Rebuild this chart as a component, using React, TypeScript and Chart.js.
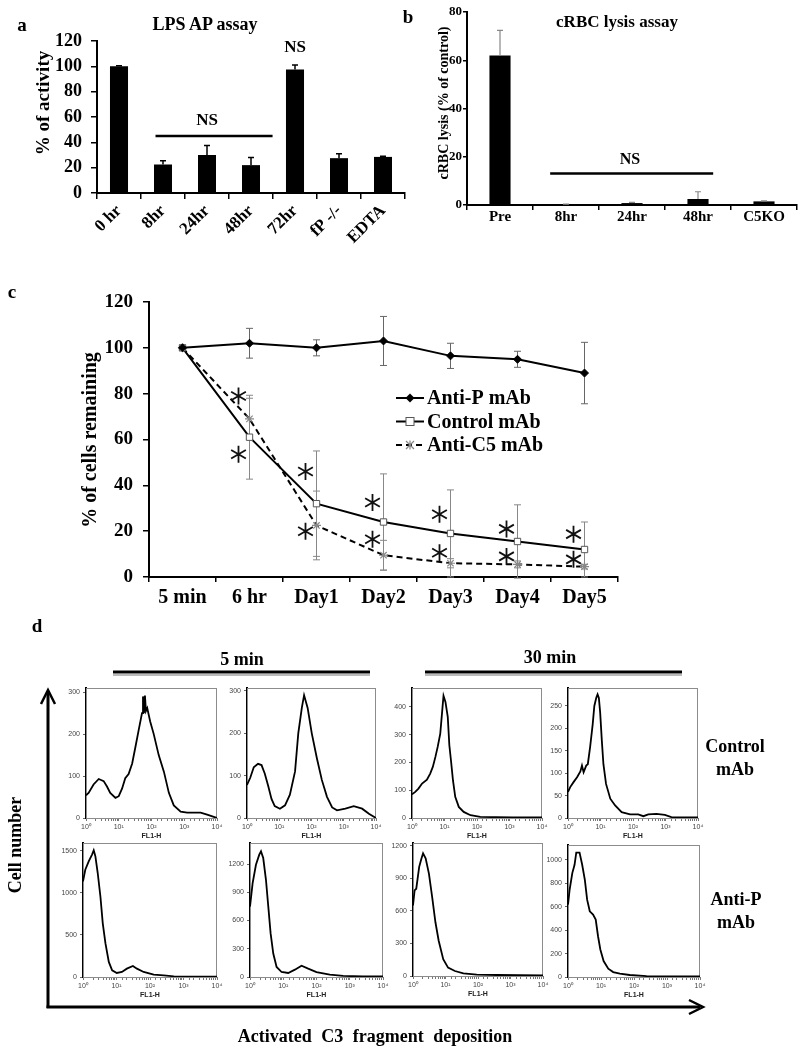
import React, { useEffect, useRef } from 'react';
import { Chart, registerables } from 'chart.js';

Chart.register(...registerables);

const SERIF = '"Liberation Serif", "Times New Roman", Times, serif';
const SANS = '"Liberation Sans", Arial, Helvetica, sans-serif';

/* ================= Panel a : LPS AP assay ================= */
const aCategories = ['0 hr', '8hr', '24hr', '48hr', '72hr', 'fP -/-', 'EDTA'];
const aValues = [100, 22.5, 30, 22, 97.5, 27.5, 28.5];
const aErrors = [0.5, 3, 7.5, 6, 3.5, 3.5, 0.5];
const aYTicks = [0, 20, 40, 60, 80, 100, 120];
const aNS = [
  { from: 0.83, to: 3.49, value: 45, textAt: 2, textValue: 57.5 },
  { textAt: 4, textValue: 114.5 },
];

/* ================= Panel b : cRBC lysis assay ================= */
const bCategories = ['Pre', '8hr', '24hr', '48hr', 'C5KO'];
const bValues = [62, 0.3, 0.8, 2.5, 1.5];
const bErrors = [10.4, 0.1, 0.3, 3, 0.2];
const bYTicks = [0, 20, 40, 60, 80];
const bNS = [{ from: 0.76, to: 3.23, value: 13.1, textAt: 1.97, textValue: 18.7 }];

/* ================= Panel c : % of cells remaining ================= */
const cCategories = ['5 min', '6 hr', 'Day1', 'Day2', 'Day3', 'Day4', 'Day5'];
const cYTicks = [0, 20, 40, 60, 80, 100, 120];
const antiP = [100, 102, 100, 103, 96.5, 95, 89];
const antiPErr = [0, 6.5, 3.5, 10.7, 5.5, 3.5, 13.4];
const controlMAb = [100, 61, 32, 24, 19, 15.5, 12];
const controlErr = [0, 18.3, 23, 21, 19, 16, 12];
const antiC5 = [100, 69, 22.5, 9.5, 6, 5.5, 4.5];
const antiC5Err = [0, 9, 15, 6.5, 2, 1.5, 1];
const starCategory = [1, 1, 2, 2, 3, 3, 4, 4, 5, 5, 6, 6];
const starValue = [79, 53.6, 46, 20, 32.5, 16.5, 27.4, 10.6, 21, 9, 18.7, 7.7];

/* ================= Panel d : flow histograms (FL1-H) ================= */
const flTickValues = [1, 10, 100, 1000, 10000];
const flTickLabels = ['10\u2070', '10\u00b9', '10\u00b2', '10\u00b3', '10\u2074'];

const h1X = [1, 1.2, 1.7, 2.45, 3.47, 4.37, 5.5, 7.94, 10, 12.6, 15.8, 20, 25.7, 32.4, 40.7, 51.3, 55, 58.9, 63.1, 67.6, 74.1, 91.2, 117, 166, 240, 339, 479, 776, 1230, 3162, 5012, 10000];
const h1Y = [54, 60, 80, 93, 88, 75, 60, 48, 52, 70, 95, 105, 130, 170, 210, 250, 290, 250, 292, 255, 262, 230, 200, 150, 110, 60, 30, 15, 13, 13, 8, 0];
const h1Ticks = [0, 100, 200, 300];

const h2X = [1, 1.26, 1.62, 2.19, 2.82, 3.55, 4.57, 5.75, 7.24, 10.5, 15.1, 21.4, 30.9, 38.9, 50.1, 58.9, 75.9, 102, 148, 209, 302, 437, 617, 1122, 2042, 3715, 6026, 10000];
const h2Y = [78, 95, 120, 128, 125, 105, 75, 45, 28, 22, 30, 55, 110, 200, 260, 290, 260, 200, 140, 90, 50, 25, 18, 22, 28, 22, 10, 0];
const h2Ticks = [0, 100, 200, 300];

const h3X = [1, 1.26, 1.58, 2.04, 2.88, 3.63, 4.37, 5.25, 6.17, 7.41, 8.71, 9.33, 10.7, 12.6, 14.1, 15.8, 18.2, 21.4, 27.5, 38.9, 63.1, 126, 380, 1259, 10000];
const h3Y = [85, 94, 106, 124, 138, 160, 184, 220, 256, 304, 400, 440, 418, 364, 262, 208, 136, 76, 40, 22, 10, 4, 3, 2, 2];
const h3Ticks = [0, 100, 200, 300, 400];

const h4X = [1, 1.17, 1.48, 1.9, 2.4, 2.69, 3.02, 3.63, 4.07, 4.79, 5.75, 6.46, 7.41, 8.13, 8.91, 9.77, 11, 12.3, 14.8, 20, 28.2, 44.7, 81.3, 145, 209, 295, 525, 955, 1514, 2754, 10000];
const h4Y = [58, 69, 80, 91, 104, 117, 102, 117, 120, 158, 209, 250, 268, 276, 268, 235, 172, 120, 76, 43, 28, 13, 8, 8, 4, 8, 9, 7, 2, 1.5, 1.5];
const h4Ticks = [0, 50, 100, 150, 200, 250];

const h5X = [1, 1.17, 1.48, 1.86, 2.09, 2.34, 2.75, 3.31, 3.89, 4.68, 5.89, 7.41, 10.2, 14.5, 20.4, 30.9, 40.7, 64.6, 129, 257, 513, 1259, 10000];
const h5Y = [1134, 1273, 1373, 1453, 1504, 1433, 1234, 955, 637, 398, 179, 80, 48, 60, 99, 131, 99, 60, 28, 20, 8, 4, 4];
const h5Ticks = [0, 500, 1000, 1500];

const h6X = [1, 1.2, 1.51, 1.9, 2.14, 2.5, 3.02, 3.55, 4.17, 5.01, 6.31, 8.91, 14.1, 22.4, 35.5, 56.2, 100, 251, 631, 2512, 10000];
const h6Y = [748, 997, 1193, 1300, 1335, 1264, 1033, 748, 463, 249, 107, 53, 43, 78, 120, 89, 53, 25, 11, 7, 7];
const h6Ticks = [0, 300, 600, 900, 1200];

const h7X = [1, 1.12, 1.26, 1.55, 1.82, 2.04, 2.45, 3.09, 3.89, 4.9, 6.17, 8.51, 12, 19.5, 35.5, 91.2, 380, 10000];
const h7Y = [650, 789, 804, 1005, 1083, 1129, 1083, 943, 727, 495, 325, 155, 77, 46, 25, 12, 9, 6];
const h7Ticks = [0, 300, 600, 900, 1200];

const h8X = [1, 1.12, 1.35, 1.58, 1.78, 2.24, 2.69, 3.24, 3.8, 4.57, 5.75, 6.92, 8.13, 9.55, 12, 16.6, 23.4, 37.2, 74.1, 240, 10000];
const h8Y = [618, 745, 887, 958, 1062, 1062, 958, 830, 660, 561, 533, 490, 348, 235, 136, 71, 42, 28, 17, 8, 5];
const h8Ticks = [0, 200, 400, 600, 800, 1000];

const histMax = [310, 307, 468, 290, 1590, 1424, 1225, 1127];

/* layout of the histogram frames (page pixels) */
const histBoxes = [
  { l: 86, r: 217, t: 688, b: 818 },
  { l: 247, r: 376, t: 688, b: 818 },
  { l: 412, r: 542, t: 688, b: 818 },
  { l: 568, r: 698, t: 688, b: 818 },
  { l: 83, r: 217, t: 843, b: 977 },
  { l: 250, r: 383, t: 843, b: 977 },
  { l: 413, r: 543, t: 843, b: 976 },
  { l: 568, r: 700, t: 845, b: 977 },
];
const histSeries = [
  [h1X, h1Y, h1Ticks],
  [h2X, h2Y, h2Ticks],
  [h3X, h3Y, h3Ticks],
  [h4X, h4Y, h4Ticks],
  [h5X, h5Y, h5Ticks],
  [h6X, h6Y, h6Ticks],
  [h7X, h7Y, h7Ticks],
  [h8X, h8Y, h8Ticks],
];

/* ================= helpers ================= */
function fixWidth(w: number) {
  return (s: any) => {
    s.width = w;
    s.paddingTop = 0; s.paddingBottom = 0; s.paddingLeft = 0; s.paddingRight = 0;
  };
}
function fixHeight(h: number) {
  return (s: any) => {
    s.height = h;
    s.paddingTop = 0; s.paddingBottom = 0; s.paddingLeft = 0; s.paddingRight = 0;
  };
}
function ticksFrom(values: number[]) {
  return (s: any) => {
    s.ticks = values.map((v) => ({ value: v }));
  };
}

function errorBars(sets: any[], before: boolean) {
  const draw = (chart: any) => {
    const ctx = chart.ctx;
    const y = chart.scales.y;
    sets.forEach((set) => {
      const meta = chart.getDatasetMeta(set.index);
      const values = chart.data.datasets[set.index].data;
      ctx.save();
      ctx.strokeStyle = set.color;
      ctx.lineWidth = set.width;
      meta.data.forEach((el: any, i: number) => {
        const e = set.errors[i];
        if (!e) return;
        const v = values[i];
        const x = el.x;
        const yTop = y.getPixelForValue(v + e);
        const yBot = y.getPixelForValue(set.both ? v - e : v);
        ctx.beginPath();
        ctx.moveTo(x, yBot);
        ctx.lineTo(x, yTop);
        ctx.moveTo(x - set.cap, yTop);
        ctx.lineTo(x + set.cap, yTop);
        if (set.both) {
          ctx.moveTo(x - set.cap, yBot);
          ctx.lineTo(x + set.cap, yBot);
        }
        ctx.stroke();
      });
      ctx.restore();
    });
  };
  return before
    ? { id: 'errorBarsBefore', beforeDatasetsDraw: draw }
    : { id: 'errorBarsAfter', afterDatasetsDraw: draw };
}

function nsMarks(items: any[], size: number) {
  return {
    id: 'nsMarks',
    afterDatasetsDraw(chart: any) {
      const { ctx } = chart;
      const x = chart.scales.x;
      const y = chart.scales.y;
      ctx.save();
      ctx.strokeStyle = '#000';
      ctx.fillStyle = '#000';
      ctx.lineWidth = 2.5;
      ctx.font = `bold ${size}px ${SERIF}`;
      ctx.textAlign = 'center';
      ctx.textBaseline = 'middle';
      items.forEach((it) => {
        if (it.from !== undefined) {
          const yy = y.getPixelForValue(it.value);
          ctx.beginPath();
          ctx.moveTo(x.getPixelForValue(it.from), yy);
          ctx.lineTo(x.getPixelForValue(it.to), yy);
          ctx.stroke();
        }
        ctx.fillText('NS', x.getPixelForValue(it.textAt), y.getPixelForValue(it.textValue));
      });
      ctx.restore();
    },
  };
}

function drawAsterisk(ctx: CanvasRenderingContext2D, x: number, y: number, r: number) {
  ctx.beginPath();
  for (let k = 0; k < 3; k++) {
    const ang = Math.PI / 2 + (k * Math.PI) / 3;
    ctx.moveTo(x + r * Math.cos(ang), y + r * Math.sin(ang));
    ctx.lineTo(x - r * Math.cos(ang), y - r * Math.sin(ang));
  }
  ctx.stroke();
}

const asteriskPlugin = {
  id: 'asterisks',
  afterDatasetsDraw(chart: any) {
    const { ctx } = chart;
    const x = chart.scales.x;
    const y = chart.scales.y;
    ctx.save();
    ctx.strokeStyle = '#111';
    ctx.lineWidth = 1.8;
    starCategory.forEach((c, i) => {
      drawAsterisk(ctx, x.getPixelForValue(c) - 11, y.getPixelForValue(starValue[i]), 8.5);
    });
    ctx.restore();
  },
};

function drawMarker(ctx: CanvasRenderingContext2D, kind: string, x: number, y: number) {
  ctx.save();
  if (kind === 'diamond') {
    ctx.fillStyle = '#000';
    ctx.beginPath();
    ctx.moveTo(x, y - 4.5);
    ctx.lineTo(x + 4.5, y);
    ctx.lineTo(x, y + 4.5);
    ctx.lineTo(x - 4.5, y);
    ctx.closePath();
    ctx.fill();
  } else if (kind === 'square') {
    ctx.fillStyle = '#fff';
    ctx.strokeStyle = '#555';
    ctx.lineWidth = 1;
    ctx.fillRect(x - 4, y - 4, 8, 8);
    ctx.strokeRect(x - 4, y - 4, 8, 8);
  } else {
    ctx.strokeStyle = '#888';
    ctx.lineWidth = 1.2;
    ctx.beginPath();
    ctx.moveTo(x - 4, y - 4); ctx.lineTo(x + 4, y + 4);
    ctx.moveTo(x + 4, y - 4); ctx.lineTo(x - 4, y + 4);
    ctx.moveTo(x, y - 4.5); ctx.lineTo(x, y + 4.5);
    ctx.stroke();
  }
  ctx.restore();
}

const legendMarkers = ['diamond', 'square', 'star'];
const legendPlugin = {
  id: 'legendC',
  afterDraw(chart: any) {
    const { ctx, chartArea } = chart;
    const x0 = 396;
    const x1 = 424;
    const tx = 427;
    ctx.save();
    chart.data.datasets.forEach((ds: any, i: number) => {
      const yy = chartArea.top + 96 + i * 23.5;
      ctx.strokeStyle = '#000';
      ctx.lineWidth = 2;
      ctx.setLineDash(ds.borderDash || []);
      ctx.beginPath();
      ctx.moveTo(x0, yy);
      ctx.lineTo(x1, yy);
      ctx.stroke();
      ctx.setLineDash([]);
      drawMarker(ctx, legendMarkers[i], (x0 + x1) / 2, yy);
      ctx.fillStyle = '#000';
      ctx.font = `bold 20px ${SERIF}`;
      ctx.textAlign = 'left';
      ctx.textBaseline = 'middle';
      ctx.fillText(ds.label, tx, yy + 1);
    });
    ctx.restore();
  },
};

const frameBox = {
  id: 'frameBox',
  beforeDatasetsDraw(chart: any) {
    const { ctx, chartArea } = chart;
    ctx.save();
    ctx.strokeStyle = '#8c8c8c';
    ctx.lineWidth = 1;
    ctx.strokeRect(chartArea.left + 0.5, chartArea.top + 0.5, chartArea.right - chartArea.left - 1, chartArea.bottom - chartArea.top);
    ctx.restore();
  },
};

const boldSerif = (size: number) => ({ family: SERIF, size, weight: 'bold' as const });

/* ================= chart factories ================= */
const makeA = () => ({
  type: 'bar',
  data: {
    labels: aCategories,
    datasets: [{ data: aValues, backgroundColor: '#000', barPercentage: 0.41, categoryPercentage: 1 }],
  },
  options: {
    responsive: false,
    animation: false,
    devicePixelRatio: 1,
    layout: { padding: { top: 41, right: 15, left: 0, bottom: 0 } },
    plugins: { legend: { display: false }, tooltip: { enabled: false } },
    scales: {
      x: {
        afterFit: fixHeight(57),
        grid: { offset: true, drawOnChartArea: false, tickLength: 6, color: '#000', lineWidth: 1.5 },
        border: { color: '#000', width: 2 },
        ticks: { autoSkip: false, minRotation: 45, maxRotation: 45, padding: 2, color: '#000', font: boldSerif(17) },
      },
      y: {
        min: 0,
        max: 120,
        afterFit: fixWidth(97),
        afterBuildTicks: ticksFrom(aYTicks),
        grid: { drawOnChartArea: false, tickLength: 6, color: '#000', lineWidth: 1.5 },
        border: { color: '#000', width: 2 },
        ticks: { padding: 9, color: '#000', font: boldSerif(18) },
      },
    },
  },
  plugins: [
    errorBars([{ index: 0, errors: aErrors, color: '#000', cap: 3, both: false, width: 1.5 }], false),
    nsMarks(aNS, 17),
  ],
});

const makeB = () => ({
  type: 'bar',
  data: {
    labels: bCategories,
    datasets: [{ data: bValues, backgroundColor: '#000', barPercentage: 0.32, categoryPercentage: 1 }],
  },
  options: {
    responsive: false,
    animation: false,
    devicePixelRatio: 1,
    layout: { padding: { top: 12, right: 1, left: 0, bottom: 0 } },
    plugins: { legend: { display: false }, tooltip: { enabled: false } },
    scales: {
      x: {
        afterFit: fixHeight(35),
        grid: { offset: true, drawOnChartArea: false, tickLength: 5, color: '#000', lineWidth: 1.5 },
        border: { color: '#000', width: 2 },
        ticks: { autoSkip: false, maxRotation: 0, padding: -2, color: '#000', font: boldSerif(15) },
      },
      y: {
        min: 0,
        max: 80,
        afterFit: fixWidth(67),
        afterBuildTicks: ticksFrom(bYTicks),
        grid: { drawOnChartArea: false, tickLength: 4, color: '#000', lineWidth: 1.5 },
        border: { color: '#000', width: 2 },
        ticks: { padding: 1, color: '#000', font: boldSerif(13) },
      },
    },
  },
  plugins: [
    errorBars([{ index: 0, errors: bErrors, color: '#888', cap: 3, both: false, width: 1.2 }], false),
    nsMarks(bNS, 16),
  ],
});

const makeC = () => ({
  type: 'line',
  data: {
    labels: cCategories,
    datasets: [
      {
        label: 'Anti-P mAb', data: antiP, borderColor: '#000', borderWidth: 2, tension: 0,
        pointStyle: 'rectRot', pointRadius: 4, pointBackgroundColor: '#000', pointBorderColor: '#000', pointBorderWidth: 1,
      },
      {
        label: 'Control mAb', data: controlMAb, borderColor: '#000', borderWidth: 2, tension: 0,
        pointStyle: 'rect', pointRadius: 4.5, pointBackgroundColor: '#fff', pointBorderColor: '#555', pointBorderWidth: 1,
      },
      {
        label: 'Anti-C5 mAb', data: antiC5, borderColor: '#000', borderWidth: 2, borderDash: [6, 4], tension: 0,
        pointStyle: 'star', pointRadius: 4.5, pointBackgroundColor: '#888', pointBorderColor: '#888', pointBorderWidth: 1.2,
      },
    ],
  },
  options: {
    responsive: false,
    animation: false,
    devicePixelRatio: 1,
    layout: { padding: { top: 52, right: 22, left: 0, bottom: 0 } },
    plugins: { legend: { display: false }, tooltip: { enabled: false } },
    scales: {
      x: {
        offset: true,
        afterFit: fixHeight(43),
        grid: { offset: true, drawOnChartArea: false, tickLength: 5, color: '#000', lineWidth: 1.5 },
        border: { color: '#000', width: 2 },
        ticks: { autoSkip: false, maxRotation: 0, padding: 4, color: '#000', font: boldSerif(20) },
      },
      y: {
        min: 0,
        max: 120,
        afterFit: fixWidth(149),
        afterBuildTicks: ticksFrom(cYTicks),
        grid: { drawOnChartArea: false, tickLength: 6, color: '#000', lineWidth: 1.5 },
        border: { color: '#000', width: 2 },
        ticks: { padding: 10, color: '#000', font: boldSerif(19) },
      },
    },
  },
  plugins: [
    errorBars(
      [
        { index: 0, errors: antiPErr, color: '#666', cap: 3.5, both: true, width: 1 },
        { index: 1, errors: controlErr, color: '#888', cap: 3.5, both: true, width: 1 },
        { index: 2, errors: antiC5Err, color: '#888', cap: 3.5, both: true, width: 1 },
      ],
      true
    ),
    asteriskPlugin,
    legendPlugin,
  ],
});

function makeHist(xs: number[], ys: number[], yTicks: number[], yMax: number) {
  return () => ({
    type: 'line',
    data: {
      datasets: [
        {
          data: xs.map((x, i) => ({ x, y: ys[i] })),
          borderColor: '#000',
          borderWidth: 1.8,
          pointRadius: 0,
          tension: 0,
        },
      ],
    },
    options: {
      responsive: false,
      animation: false,
      devicePixelRatio: 1,
      layout: { padding: { top: 8, right: 12, left: 0, bottom: 0 } },
      plugins: { legend: { display: false }, tooltip: { enabled: false } },
      scales: {
        x: {
          type: 'logarithmic',
          min: 1,
          max: 10000,
          afterFit: fixHeight(23),
          grid: { drawOnChartArea: false, tickLength: 3, color: '#777', lineWidth: 1 },
          border: { color: '#777', width: 1 },
          ticks: {
            autoSkip: false,
            maxRotation: 0,
            padding: 2,
            color: '#444',
            font: { family: SANS, size: 7 },
            callback: (v: number) => {
              const k = flTickValues.indexOf(v);
              return k >= 0 ? flTickLabels[k] : '';
            },
          },
          title: {
            display: true,
            text: 'FL1-H',
            color: '#222',
            font: { family: SANS, size: 7, weight: 'bold' },
            padding: { top: 0, bottom: 1 },
          },
        },
        y: {
          min: 0,
          max: yMax,
          afterFit: fixWidth(28),
          afterBuildTicks: ticksFrom(yTicks),
          grid: { drawOnChartArea: false, tickLength: 3, color: '#666', lineWidth: 1 },
          border: { color: '#000', width: 2 },
          ticks: {
            padding: 3,
            color: '#444',
            font: { family: SANS, size: 7 },
            callback: (v: number) => String(v),
          },
        },
      },
    },
    plugins: [frameBox],
  });
}

const histMakers = histSeries.map((s, i) => makeHist(s[0], s[1], s[2], histMax[i]));

/* ================= React ================= */
function ChartCanvas({ left, top, width, height, make }: any) {
  const ref = useRef<HTMLCanvasElement | null>(null);
  useEffect(() => {
    if (!ref.current) return;
    const chart = new Chart(ref.current, make() as any);
    return () => chart.destroy();
  }, [make]);
  return (
    <canvas
      ref={ref}
      width={width}
      height={height}
      style={{ position: 'absolute', left, top, width, height }}
    />
  );
}

function Label({ x, y, size, rotate, children, style }: any) {
  return (
    <div
      style={{
        position: 'absolute',
        left: x,
        top: y,
        transform: `translate(-50%, -50%)${rotate ? ` rotate(${rotate}deg)` : ''}`,
        fontFamily: SERIF,
        fontWeight: 'bold',
        fontSize: size,
        lineHeight: 1.2,
        whiteSpace: 'nowrap',
        textAlign: 'center',
        color: '#000',
        ...style,
      }}
    >
      {children}
    </div>
  );
}

export default function App() {
  return (
    <div
      style={{
        position: 'absolute',
        left: 0,
        top: 0,
        width: 798,
        height: 1050,
        background: '#fff',
        overflow: 'hidden',
      }}
    >
      <ChartCanvas left={0} top={0} width={420} height={250} make={makeA} />
      <ChartCanvas left={400} top={0} width={398} height={240} make={makeB} />
      <ChartCanvas left={0} top={250} width={640} height={370} make={makeC} />
      {histBoxes.map((b, i) => (
        <ChartCanvas
          key={i}
          left={b.l - 28}
          top={b.t - 8}
          width={b.r - b.l + 28 + 12}
          height={b.b - b.t + 8 + 23}
          make={histMakers[i]}
        />
      ))}

      <svg
        width={798}
        height={1050}
        style={{ position: 'absolute', left: 0, top: 0, pointerEvents: 'none' }}
      >
        <line x1={113} y1={675} x2={370} y2={675} stroke="#bbb" strokeWidth={2} />
        <line x1={113} y1={672} x2={370} y2={672} stroke="#000" strokeWidth={3} />
        <line x1={425} y1={675} x2={682} y2={675} stroke="#bbb" strokeWidth={2} />
        <line x1={425} y1={672} x2={682} y2={672} stroke="#000" strokeWidth={3} />
        <line x1={48} y1={1008} x2={48} y2={692} stroke="#000" strokeWidth={3} />
        <polyline points="41,704 48,690 55,704" fill="none" stroke="#000" strokeWidth={2.5} />
        <line x1={46.5} y1={1007} x2={700} y2={1007} stroke="#000" strokeWidth={3} />
        <polyline points="689,1000 703,1007 689,1014" fill="none" stroke="#000" strokeWidth={2.5} />
      </svg>

      <Label x={22} y={25} size={19}>a</Label>
      <Label x={205} y={25} size={18}>LPS AP assay</Label>
      <Label x={43} y={103} size={19} rotate={-90}>% of activity</Label>

      <Label x={408} y={17} size={19}>b</Label>
      <Label x={617} y={22} size={17}>cRBC lysis assay</Label>
      <Label x={444} y={103} size={14} rotate={-90}>cRBC lysis (% of control)</Label>

      <Label x={12} y={292} size={19}>c</Label>
      <Label x={89} y={440} size={20} rotate={-90}>% of cells remaining</Label>

      <Label x={37} y={626} size={19}>d</Label>
      <Label x={242} y={660} size={18}>5 min</Label>
      <Label x={550} y={658} size={18}>30 min</Label>
      <Label x={735} y={758} size={18} style={{ lineHeight: '23px' }}>
        Control
        <br />
        mAb
      </Label>
      <Label x={736} y={911} size={18} style={{ lineHeight: '23px' }}>
        Anti-P
        <br />
        mAb
      </Label>
      <Label x={16} y={845} size={18} rotate={-90}>Cell number</Label>
      <Label x={375} y={1037} size={18} style={{ wordSpacing: 5 }}>
        Activated  C3 fragment  deposition
      </Label>
    </div>
  );
}
